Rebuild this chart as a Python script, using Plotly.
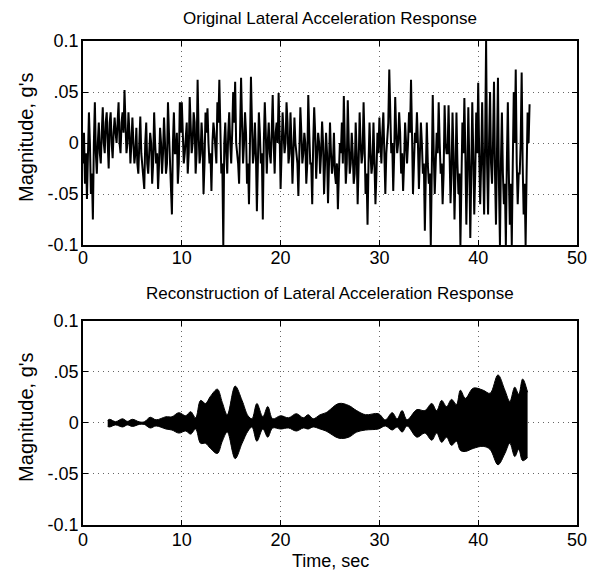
import plotly.graph_objects as go

# ---------------- data ----------------
# Top panel: original lateral acceleration (hundredths of g).
# Peak / trough readings every 0.2 s starting at 0.0 s
orig_t0 = 0.0
orig_dt = 0.2
orig_peaks_cg = [
    # 0 - 4.8 s
    -2, -4, -5.5, 3, -5, -7.5, 4, -3, 2, -2, 3.5, -1, 3, -2.5, 3, -1.5, 2.5, 0, 4, -1, 3, 5.2, -1, 3, -2,
    # 5 - 9.8 s
    2.5, -2, 1.5, -3, 2.6, -2, -4.5, 2, -3, 1, -4, 3, -2, -4.5, 1.5, -3, 2.5, -3, 4, -2, -7, 3, -1, -4, 4,
    # 10 - 14.8 s
    4, -2, 1, -3, 4.5, -1, 3, -3, 6.2, -2, 2, -5, 3, 3.4, -2, -4.7, 2, -1, 4, 6.2, -3, -10, 2, -3, 3,
    # 15 - 19.8 s
    -2, 5, 6, -1, -4, 6.4, -2, 3, -4, -6, 6.5, -2, 2, -6.7, 3, -2, -7.5, 4, -3, 2, -2, 4.7, -3, 2, 4.9,
    # 20 - 24.8 s
    -4.5, 3, -1, 4, -2, 3, -4, 2.5, -1, -5.2, 3.5, -2, 1, -4, 4.7, -2, -6, 3.5, -3.5, 1, -3, 2.1, -5, 1, -5.9,
    # 25 - 29.8 s
    2, -3, 1, -4, -6.5, 0, 2, 4.6, -4, 4.2, -3, 1, -4, 2, -6, 3, -2, 4, -5, -8, 2, -3, 2, -6, 1,
    # 30 - 34.8 s
    2.5, -2, 3, -5, 1, 7.2, -1, -4.7, 4.5, -1, 3, -3, -4.7, 2, -2, 3, 6.2, -5, 1, 3, -4.5, 2, -3, -8.6, 2,
    # 35 - 39.8 s
    -4, -10, 4.7, -5, 1, 4, -3, -6, 3.7, -1, 3.7, -5.9, 3, -7.5, 3, -5, -10, 2, 4.4, -8, 3.5, -9.3, 4, -7, 3,
    # 40 - 45.2 s
    5.9, -6, 4, -7, 10, -7, 5, -4, 6, -8, 6.4, -10, 3, -6, -10, 4, -8, -10, 5, 7.2, -6, -3, 6.9, -7, -10, 3, 3.8,
]
# Inner-band readings half-way between the samples above (0.1 s, 0.3 s, ...)
orig_band_cg = [
    # 0.1 - 4.9 s
    1, -1, -2, 0, -3, 0, -1, 0, -1, 1, 0, 2, 0, 2, 0, 1, 1, 2, 0, 2, 1, 2, 0, 1, 0,
    # 5.1 - 9.9 s
    0, -1, -2, 0, -1, -3, 0, -2, -1, 0, -2, 0, -1, -2, 0, -1, 0, -2, 1, -3, 0, -1, 1, -2, 1,
    # 10.1 - 14.9 s
    1, -1, 2, -1, 1, 0, 2, -1, 1, -1, 0, -2, 1, 0, -1, 0, 1, -2, 2, 1, -2, 0, -1, 1, 0,
    # 15.1 - 19.9 s
    1, 2, 0, -2, 1, 2, 0, 1, -2, 0, 2, -1, -1, -2, 1, -1, 0, 1, 0, -1, 1, 0, 1, 0, 1,
    # 20.1 - 24.9 s
    -1, 1, 0, 2, -1, 0, -1, 0, -2, 0, 1, -1, 0, -2, 1, -2, 0, 1, -1, 0, -1, 0, -2, -1, -2,
    # 25.1 - 29.9 s
    -1, -2, -3, -2, -3, -1, -2, 0, -2, 0, -2, -1, -3, -1, -2, 0, -1, 0, -3, -2, -1, -2, -2, -3, -1,
    # 30.1 - 34.9 s
    0, 1, -1, -1, 2, 1, 0, -1, 1, 0, 1, -1, -2, 0, 0, 1, 1, -2, 0, 0, -1, 0, -2, -3, -2,
    # 35.1 - 39.9 s
    -3, -3, -1, -2, -1, 0, -2, -3, 0, -1, -1, -3, -1, -3, -2, -3, -4, -1, -1, -3, -2, -3, -1, -3, -1,
    # 40.1 - 45.1 s
    -1, -2, -2, 0, -2, 0, -2, 0, -3, -1, -4, -2, -3, -4, -2, -3, -4, -2, 0, -2, -3, 0, -2, -4, -3, 0,
]

# Bottom panel: envelope of the reconstructed response (time s, upper / lower in hundredths of g)
env_t = [2.5, 2.7, 3.3, 4.0, 4.5, 5.0, 5.7, 6.2, 6.8, 7.4, 8.4, 9.0, 9.7, 10.4, 10.9, 11.4,
         11.9, 12.4, 12.9, 13.6, 14.1, 14.6, 15.4, 16.1, 16.7, 17.1, 17.6, 18.2, 18.7, 19.2,
         20.0, 20.8, 21.6, 22.3, 22.8, 23.3, 24.0, 24.6, 25.9, 26.9, 27.7, 28.6, 29.9, 30.6,
         31.3, 31.8, 32.3, 32.8, 33.8, 34.6, 35.3, 35.8, 36.3, 36.8, 37.3, 37.8, 38.2, 38.7,
         39.5, 40.5, 41.2, 42.0, 42.7, 43.2, 43.7, 44.1, 44.5, 45.0]
env_upper_cg = [0.25, 0.35, 0.12, 0.4, 0.15, 0.35, 0.1, 0.1, 0.55, 0.3, 0.6, 0.6, 1.0, 0.7, 1.1, 0.5,
                2.2, 1.9, 2.6, 3.3, 2.0, 0.8, 3.6, 2.2, 0.7, 0.4, 1.9, 0.6, 1.6, 0.4,
                0.7, 0.5, 0.9, 0.5, 0.8, 0.4, 0.8, 1.0, 1.9, 1.7, 1.2, 0.8, 0.9, 0.3,
                1.0, 0.4, 1.2, 0.3, 1.3, 1.2, 1.9, 1.2, 2.2, 1.6, 2.3, 1.8, 3.2, 2.4,
                3.4, 3.2, 2.9, 4.7, 3.2, 2.1, 3.5, 2.8, 4.3, 3.0]
env_lower_cg = [-0.35, -0.4, -0.2, -0.4, -0.2, -0.35, -0.15, -0.15, -0.5, -0.3, -0.6, -0.7, -1.0, -0.8, -1.1, -0.6,
                -2.0, -2.0, -2.5, -3.0, -1.8, -0.9, -3.5, -2.0, -0.8, -0.4, -1.8, -0.6, -1.4, -0.5,
                -0.6, -0.5, -0.8, -0.5, -0.6, -0.4, -0.6, -0.8, -1.5, -1.4, -0.9, -0.7, -0.6, -0.3,
                -0.7, -0.4, -0.9, -0.3, -1.4, -1.0, -1.7, -1.0, -1.9, -1.4, -2.2, -1.8, -2.7, -2.8,
                -2.5, -2.3, -2.6, -4.1, -3.0, -2.0, -3.3, -2.6, -3.7, -3.4]

x_ticks = [0, 10, 20, 30, 40, 50]
y_ticks = [-0.1, -0.05, 0, 0.05, 0.1]
y_tick_text = ["-0.1", "-.05", "0", ".05", "0.1"]

titles = ["Original Lateral Acceleration Response",
          "Reconstruction of Lateral Acceleration Response"]
y_title = "Magnitude, g's"
x_title = "Time, sec"

# ---------------- assemble top series (interleave peaks and band readings) ----------------
orig_t, orig_g = [], []
for i, pk in enumerate(orig_peaks_cg):
    orig_t.append(orig_t0 + i * orig_dt)
    orig_g.append(pk / 100.0)
    if i < len(orig_band_cg):
        orig_t.append(orig_t0 + i * orig_dt + orig_dt / 2)
        orig_g.append(orig_band_cg[i] / 100.0)

up_g = [v / 100.0 for v in env_upper_cg]
lo_g = [v / 100.0 for v in env_lower_cg]

FONT = "Liberation Sans, Arial, Helvetica, sans-serif"

fig = go.Figure()
fig.add_trace(go.Scatter(x=orig_t, y=orig_g, mode="lines",
                         line=dict(color="black", width=2.0),
                         xaxis="x", yaxis="y", showlegend=False))
fig.add_trace(go.Scatter(x=env_t, y=lo_g, mode="lines",
                         line=dict(color="black", width=1, shape="spline"),
                         xaxis="x2", yaxis="y2", showlegend=False))
fig.add_trace(go.Scatter(x=env_t, y=up_g, mode="lines", fill="tonexty",
                         fillcolor="black",
                         line=dict(color="black", width=1, shape="spline"),
                         xaxis="x2", yaxis="y2", showlegend=False))

ax_common = dict(showline=True, linecolor="black", linewidth=1.5, mirror="allticks",
                 ticks="inside", ticklen=5, tickcolor="black", tickwidth=1.2,
                 showgrid=True, gridcolor="#666", griddash="1px,4px", gridwidth=1,
                 zeroline=False, tickfont=dict(family=FONT, size=18, color="black"))

TOP_DOM = [0.5785, 1.0]
BOT_DOM = [0.0, 0.422]

fig.update_layout(
    width=598, height=565,
    margin=dict(l=75, r=29, t=33, b=48),
    paper_bgcolor="white", plot_bgcolor="white",
    font=dict(family=FONT, color="black"),
    xaxis=dict(domain=[0, 1], range=[0, 50], tickvals=x_ticks, anchor="y",
               ticklabelstandoff=-4, **ax_common),
    yaxis=dict(domain=TOP_DOM, range=[-0.1, 0.1], tickvals=y_ticks, ticktext=y_tick_text,
               anchor="x", ticklabelstandoff=-1, **ax_common),
    xaxis2=dict(domain=[0, 1], range=[0, 50], tickvals=x_ticks, anchor="y2",
                ticklabelstandoff=-2, **ax_common),
    yaxis2=dict(domain=BOT_DOM, range=[-0.1, 0.1], tickvals=y_ticks, ticktext=y_tick_text,
                anchor="x2", ticklabelstandoff=-1, **ax_common),
)

ann = []
ann.append(dict(text=titles[0], x=0.5, y=TOP_DOM[1], xref="paper", yref="paper", yshift=11,
                xanchor="center", yanchor="bottom", showarrow=False,
                font=dict(family=FONT, size=17, color="black")))
ann.append(dict(text=titles[1], x=0.5, y=BOT_DOM[1], xref="paper", yref="paper", yshift=16,
                xanchor="center", yanchor="bottom", showarrow=False,
                font=dict(family=FONT, size=17, color="black")))
for dom in [TOP_DOM, BOT_DOM]:
    ann.append(dict(text=y_title, x=0, y=(dom[0] + dom[1]) / 2, xref="paper", yref="paper",
                    xshift=-57, yshift=5,
                    textangle=-90, xanchor="center", yanchor="middle", showarrow=False,
                    font=dict(family=FONT, size=20, color="black")))
ann.append(dict(text=x_title, x=0.5, y=0, xref="paper", yref="paper", yshift=-24,
                xanchor="center", yanchor="top", showarrow=False,
                font=dict(family=FONT, size=18, color="black")))
fig.update_layout(annotations=ann)

fig.write_html("out.html")
